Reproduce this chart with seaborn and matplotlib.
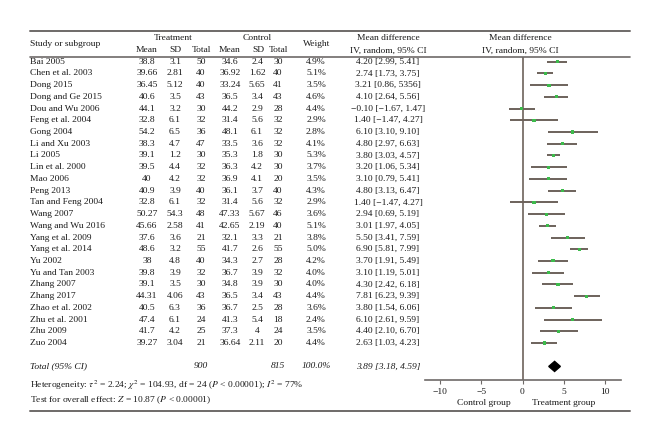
import numpy as np
import pandas as pd
import matplotlib
matplotlib.use("Agg")
import matplotlib.pyplot as plt
import matplotlib.transforms as mtransforms
from matplotlib.lines import Line2D
import seaborn as sns

# ---- data ----
studies = ["Bai 2005", "Chen et al. 2003", "Dong 2015", "Dong and Ge 2015", "Dou and Wu 2006",
           "Feng et al. 2004", "Gong 2004", "Li and Xu 2003", "Li 2005", "Lin et al. 2000",
           "Mao 2006", "Peng 2013", "Tan and Feng 2004", "Wang 2007", "Wang and Wu 2016",
           "Yang et al. 2009", "Yang et al. 2014", "Yu 2002", "Yu and Tan 2003", "Zhang 2007",
           "Zhang 2017", "Zhao et al. 2002", "Zhu et al. 2001", "Zhu 2009", "Zuo 2004"]
t_mean = ["38.8", "39.66", "36.45", "40.6", "44.1", "32.8", "54.2", "38.3", "39.1", "39.5",
          "40", "40.9", "32.8", "50.27", "45.66", "37.6", "48.6", "38", "39.8", "39.1",
          "44.31", "40.5", "47.4", "41.7", "39.27"]
t_sd = ["3.1", "2.81", "5.12", "3.5", "3.2", "6.1", "6.5", "4.7", "1.2", "4.4", "4.2", "3.9",
        "6.1", "54.3", "2.58", "3.6", "3.2", "4.8", "3.9", "3.5", "4.06", "6.3", "6.1", "4.2", "3.04"]
t_total = [50, 40, 40, 43, 30, 32, 36, 47, 30, 32, 32, 40, 32, 48, 41, 21, 55, 40, 32, 30,
           43, 36, 24, 25, 21]
c_mean = ["34.6", "36.92", "33.24", "36.5", "44.2", "31.4", "48.1", "33.5", "35.3", "36.3",
          "36.9", "36.1", "31.4", "47.33", "42.65", "32.1", "41.7", "34.3", "36.7", "34.8",
          "36.5", "36.7", "41.3", "37.3", "36.64"]
c_sd = ["2.4", "1.62", "5.65", "3.4", "2.9", "5.6", "6.1", "3.6", "1.8", "4.2", "4.1", "3.7",
        "5.6", "5.67", "2.19", "3.3", "2.6", "2.7", "3.9", "3.9", "3.4", "2.5", "5.4", "4", "2.11"]
c_total = [30, 40, 41, 43, 28, 32, 32, 32, 30, 30, 20, 40, 32, 46, 40, 21, 55, 28, 32, 30,
           43, 28, 18, 24, 20]
weight = [4.9, 5.1, 3.5, 4.6, 4.4, 2.9, 2.8, 4.1, 5.3, 3.7, 3.5, 4.3, 2.9, 3.6, 5.1, 3.8,
          5.0, 4.2, 4.0, 4.0, 4.4, 3.6, 2.4, 3.5, 4.4]
md = [4.20, 2.74, 3.21, 4.10, -0.10, 1.40, 6.10, 4.80, 3.80, 3.20, 3.10, 4.80, 1.40, 2.94,
      3.01, 5.50, 6.90, 3.70, 3.10, 4.30, 7.81, 3.80, 6.10, 4.40, 2.63]
ci_lo = [2.99, 1.73, 0.86, 2.64, -1.67, -1.47, 3.10, 2.97, 3.03, 1.06, 0.79, 3.13, -1.47,
         0.69, 1.97, 3.41, 5.81, 1.91, 1.19, 2.42, 6.23, 1.54, 2.61, 2.10, 1.03]
ci_hi = [5.41, 3.75, 5.56, 5.56, 1.47, 4.27, 9.10, 6.63, 4.57, 5.34, 5.41, 6.47, 4.27,
         5.19, 4.05, 7.59, 7.99, 5.49, 5.01, 6.18, 9.39, 6.06, 9.59, 6.70, 4.23]

total_t, total_c = 900, 815
pooled, pooled_lo, pooled_hi = 3.89, 3.18, 4.59
xticks = [-10, -5, 0, 5, 10]

df = pd.DataFrame({"study": studies, "md": md, "lo": ci_lo, "hi": ci_hi})
df["row"] = np.arange(len(df))
total_row = len(df) + 1

ci_text = [f"{m:.2f} [{l:.2f}, {h:.2f}]".replace("-", "\u2212") for m, l, h in zip(md, ci_lo, ci_hi)]
ci_text[2] = "3.21 [0.86, 5356]"   # as printed in the source figure

# ---- style ----
sns.set_theme(style="white")
plt.rcParams["font.family"] = ["Liberation Serif", "DejaVu Serif"]
plt.rcParams["mathtext.fontset"] = "stix"
FS = 6.8
INK = "#1a1a1a"
RULE = "#6e6a68"
LINE = "#6d625b"
DOT = "#3dbb4c"

W, H = 660, 442
fig = plt.figure(figsize=(W / 100, H / 100), dpi=100)

# forest axes placed by pixel box
x0, x1, ytop, ybot = 425, 621, 57, 380
ax = fig.add_axes([x0 / W, 1 - ybot / H, (x1 - x0) / W, (ybot - ytop) / H])
zero_px, px_per_unit = 522.5, 8.25
ax.set_xlim((x0 - zero_px) / px_per_unit, (x1 - zero_px) / px_per_unit)
row0, row_h = 61.7, 11.72
ax.set_ylim((ybot - row0) / row_h, (ytop - row0) / row_h)

ax.hlines(df["row"], df["lo"], df["hi"], color=LINE, lw=1.4, zorder=2)
sns.scatterplot(data=df, x="md", y="row", marker="s", s=5, color=DOT,
                edgecolor="none", ax=ax, zorder=3, legend=False)
ax.fill([pooled_lo, pooled, pooled_hi, pooled],
        [total_row, total_row - 0.43, total_row, total_row + 0.43],
        color="black", zorder=3)
ax.axvline(0, color=LINE, lw=1.2, zorder=1)

for s in ["left", "top", "right"]:
    ax.spines[s].set_visible(False)
ax.spines["bottom"].set_color(RULE)
ax.spines["bottom"].set_linewidth(1.2)
ax.set_xticks(xticks)
ax.set_xticklabels([str(t).replace("-", "\u2212") for t in xticks], fontsize=FS, color=INK)
ax.tick_params(axis="x", length=3, width=0.8, color=RULE, pad=3, bottom=True)
ax.set_yticks([])
ax.set_xlabel("")
ax.set_ylabel("")

# transforms: pixel coords (top-left origin) and pixel-x / row-y
pix = mtransforms.Affine2D().scale(1 / W, -1 / H).translate(0, 1) + fig.transFigure
rowt = mtransforms.blended_transform_factory(pix, ax.transData)
datx = mtransforms.blended_transform_factory(ax.transData, pix)


def ptext(x, y, s, ha="center", **kw):
    fig.text(x, y, s, transform=pix, ha=ha, va="center", fontsize=FS, color=INK, **kw)


def rtext(x, r, s, ha="center", **kw):
    ax.text(x, r, s, transform=rowt, ha=ha, va="center", fontsize=FS, color=INK,
            clip_on=False, **kw)


# rules
for y, lw in [(31, 1.4), (56.5, 1.2), (411, 1.4)]:
    fig.add_artist(Line2D([30, 630], [y, y], transform=pix, color=RULE, lw=lw))

# header
ptext(30, 44, "Study or subgroup", ha="left")
ptext(173, 37.5, "Treatment")
ptext(257, 37.5, "Control")
for x, s in [(147, "Mean"), (175, "SD"), (201, "Total"), (230, "Mean"), (258, "SD"), (278, "Total")]:
    ptext(x, 50.5, s)
ptext(317, 44, "Weight")
ptext(388, 37.5, "Mean difference")
ptext(388, 50.5, "IV, random, 95% CI")
ptext(520, 37.5, "Mean difference")
ptext(520, 50.5, "IV, random, 95% CI")

# study rows
for i in range(len(studies)):
    rtext(30, i, studies[i], ha="left")
    rtext(147, i, t_mean[i])
    rtext(175, i, t_sd[i])
    rtext(201, i, str(t_total[i]))
    rtext(230, i, c_mean[i])
    rtext(257, i, c_sd[i])
    rtext(278, i, str(c_total[i]))
    rtext(316, i, f"{weight[i]:.1f}%")
    rtext(388, i, ci_text[i])

# total row
rtext(30, total_row, "Total (95% CI)", ha="left", style="italic")
rtext(201, total_row, str(total_t), style="italic")
rtext(278, total_row, str(total_c), style="italic")
rtext(316, total_row, "100.0%", style="italic")
rtext(388, total_row, f"{pooled:.2f} [{pooled_lo:.2f}, {pooled_hi:.2f}]", style="italic")

# footer
ptext(30, 385, r"Heterogeneity: $\tau^2$ = 2.24; $\chi^2$ = 104.93, df = 24 ($P$ < 0.00001); $I^2$ = 77%",
      ha="left")
ptext(30, 400, r"Test for overall effect: $Z$ = 10.87 ($P$ < 0.00001)", ha="left")
ax.text(-1.4, 403, "Control group", transform=datx, ha="right", va="center",
        fontsize=FS, color=INK, clip_on=False)
ax.text(1.2, 403, "Treatment group", transform=datx, ha="left", va="center",
        fontsize=FS, color=INK, clip_on=False)

fig.savefig("out.png", dpi=100)
